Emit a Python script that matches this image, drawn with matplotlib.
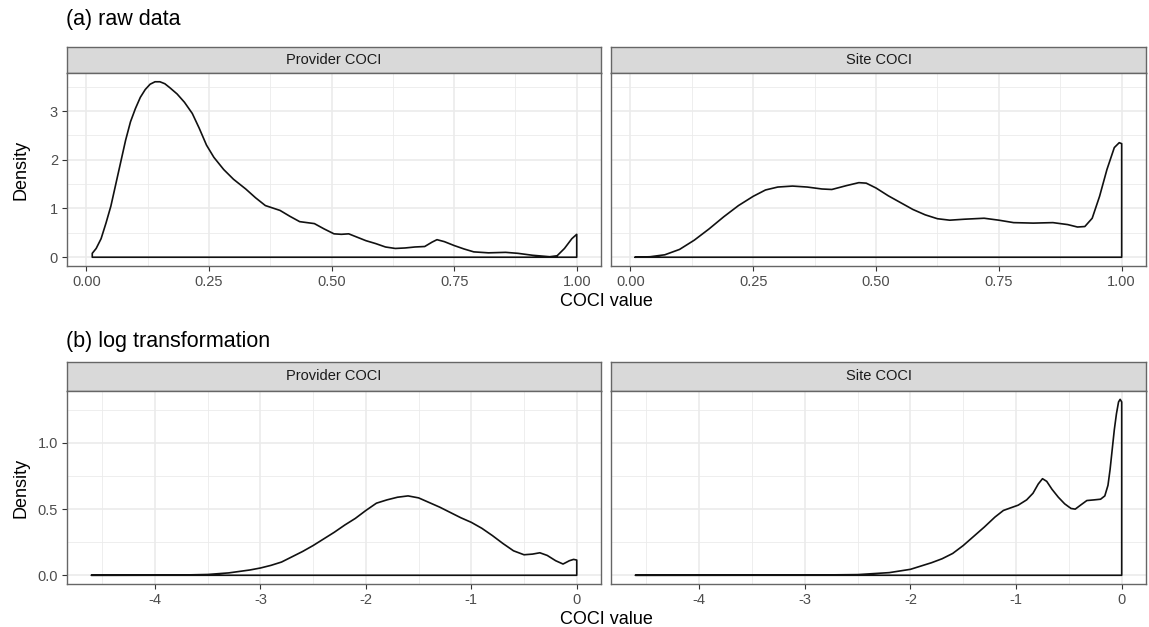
import numpy as np
import matplotlib
matplotlib.use("Agg")
import matplotlib.pyplot as plt

plt.rcParams['font.family'] = ['Liberation Sans', 'DejaVu Sans']

# (a) raw data: density curves
prov_raw_x = [0.012, 0.020, 0.030, 0.040, 0.050, 0.060, 0.070, 0.080, 0.090, 0.100, 0.110, 0.120,
              0.130, 0.140, 0.150, 0.160, 0.170, 0.185, 0.200, 0.216, 0.230, 0.245, 0.260, 0.280,
              0.300, 0.325, 0.345, 0.365, 0.380, 0.395, 0.415, 0.435, 0.450, 0.465, 0.485, 0.505,
              0.520, 0.535, 0.550, 0.570, 0.590, 0.610, 0.630, 0.650, 0.670, 0.690, 0.705, 0.715,
              0.730, 0.750, 0.770, 0.790, 0.820, 0.855, 0.880, 0.910, 0.945, 0.960, 0.975, 0.990,
              1.000]
prov_raw_y = [0.08, 0.18, 0.38, 0.70, 1.05, 1.50, 1.95, 2.40, 2.78, 3.05, 3.28, 3.44,
              3.55, 3.60, 3.60, 3.56, 3.48, 3.35, 3.18, 2.95, 2.65, 2.30, 2.05, 1.80,
              1.60, 1.40, 1.22, 1.06, 1.01, 0.96, 0.84, 0.73, 0.71, 0.69, 0.58, 0.48,
              0.47, 0.48, 0.42, 0.34, 0.28, 0.21, 0.18, 0.19, 0.21, 0.22, 0.31, 0.36,
              0.32, 0.24, 0.17, 0.11, 0.09, 0.10, 0.08, 0.04, 0.01, 0.03, 0.18, 0.38,
              0.47]
site_raw_x = [0.009, 0.040, 0.070, 0.100, 0.130, 0.160, 0.190, 0.220, 0.250, 0.275, 0.300, 0.330,
              0.360, 0.390, 0.410, 0.440, 0.465, 0.480, 0.500, 0.525, 0.550, 0.575, 0.600, 0.625,
              0.650, 0.680, 0.720, 0.750, 0.780, 0.820, 0.860, 0.890, 0.910, 0.925, 0.940, 0.955,
              0.970, 0.985, 0.995, 1.000]
site_raw_y = [0.00, 0.01, 0.05, 0.16, 0.35, 0.58, 0.83, 1.06, 1.25, 1.38, 1.44, 1.46,
              1.44, 1.40, 1.39, 1.47, 1.53, 1.52, 1.42, 1.26, 1.12, 0.98, 0.87, 0.79,
              0.76, 0.78, 0.80, 0.76, 0.71, 0.70, 0.71, 0.67, 0.62, 0.63, 0.80, 1.25,
              1.80, 2.25, 2.35, 2.33]

# (b) log transformation
prov_log_x = [-4.605, -3.8, -3.5, -3.3, -3.1, -3.0, -2.9, -2.8, -2.7, -2.6, -2.5, -2.4,
              -2.3, -2.2, -2.1, -2.0, -1.9, -1.8, -1.7, -1.6, -1.5, -1.4, -1.3, -1.2,
              -1.1, -1.0, -0.9, -0.8, -0.7, -0.6, -0.5, -0.42, -0.35, -0.28, -0.2, -0.13,
              -0.07, -0.03, 0.0]
prov_log_y = [0.0, 0.001, 0.006, 0.018, 0.04, 0.055, 0.075, 0.10, 0.14, 0.18, 0.225, 0.275,
              0.325, 0.38, 0.43, 0.49, 0.545, 0.57, 0.59, 0.60, 0.585, 0.55, 0.515, 0.475,
              0.435, 0.40, 0.355, 0.30, 0.24, 0.185, 0.155, 0.16, 0.17, 0.15, 0.11, 0.085,
              0.11, 0.12, 0.115]
site_log_x = [-4.605, -3.0, -2.5, -2.2, -2.0, -1.9, -1.8, -1.7, -1.6, -1.5, -1.4, -1.3,
              -1.2, -1.12, -1.05, -0.98, -0.9, -0.84, -0.79, -0.75, -0.71, -0.66, -0.6, -0.54,
              -0.48, -0.44, -0.39, -0.33, -0.26, -0.2, -0.16, -0.13, -0.11, -0.09, -0.07, -0.05,
              -0.03, -0.015, 0.0]
site_log_y = [0.0, 0.001, 0.005, 0.02, 0.045, 0.07, 0.095, 0.125, 0.165, 0.225, 0.295, 0.365,
              0.44, 0.49, 0.51, 0.53, 0.57, 0.62, 0.69, 0.73, 0.71, 0.65, 0.59, 0.54,
              0.505, 0.50, 0.53, 0.565, 0.57, 0.575, 0.60, 0.68, 0.80, 0.95, 1.10, 1.22,
              1.31, 1.33, 1.31]

facets = ['Provider COCI', 'Site COCI']
row_titles = ['(a) raw data', '(b) log transformation']

W, H = 1149, 627
grey20 = '#333333'
grid_col = '#ebebeb'


def box(x0, y0, x1, y1):
    # pixel box (top-left origin) -> figure fraction
    return [x0 / W, 1 - y1 / H, (x1 - x0) / W, (y1 - y0) / H]


def density_panel(ax, x, y, xlim, ylim, xmajor, xminor, ymajor, yminor, xfmt, yfmt, show_y):
    ax.set_xlim(xlim)
    ax.set_ylim(ylim)
    for v in xminor:
        ax.axvline(v, color=grid_col, lw=0.6, zorder=0)
    for v in yminor:
        ax.axhline(v, color=grid_col, lw=0.6, zorder=0)
    for v in xmajor:
        ax.axvline(v, color=grid_col, lw=1.2, zorder=0)
    for v in ymajor:
        ax.axhline(v, color=grid_col, lw=1.2, zorder=0)
    px = np.concatenate([x, [x[-1], x[0]]])
    py = np.concatenate([y, [0, 0]])
    ax.fill(px, py, facecolor='none', edgecolor='#111111', lw=1.2, closed=True,
            joinstyle='round', zorder=3)
    ax.set_xticks(xmajor)
    ax.set_xticklabels([xfmt.format(v) for v in xmajor])
    ax.set_yticks(ymajor)
    ax.set_yticklabels([yfmt.format(v) for v in ymajor] if show_y else [])
    ax.tick_params(length=3.5, width=0.8, color=grey20, labelcolor='#4d4d4d', labelsize=10.5, pad=3)
    if not show_y:
        ax.tick_params(axis='y', length=0)
    for s in ax.spines.values():
        s.set_color('#666666')
        s.set_linewidth(1.0)


def strip(box_px, label):
    sax = fig.add_axes(box(*box_px))
    sax.set_facecolor('#d9d9d9')
    sax.set_xticks([])
    sax.set_yticks([])
    for s in sax.spines.values():
        s.set_color('#666666')
        s.set_linewidth(1.0)
    sax.text(0.5, 0.5, label, ha='center', va='center', fontsize=10.5, color='#1a1a1a',
             transform=sax.transAxes)


fig = plt.figure(figsize=(W / 100, H / 100), dpi=100)

cols = [(67, 601), (611, 1146)]
rows = [
    dict(strip=(47, 73), panel=(73, 266), title_y=20,
         data=[(prov_raw_x, prov_raw_y), (site_raw_x, site_raw_y)],
         xlim=(-0.0395, 1.0495), ylim=(-0.18, 3.78),
         xmajor=[0, 0.25, 0.5, 0.75, 1.0], xminor=[0.125, 0.375, 0.625, 0.875],
         ymajor=[0, 1, 2, 3], yminor=[0.5, 1.5, 2.5, 3.5], xfmt='{:.2f}', yfmt='{:g}'),
    dict(strip=(362, 391), panel=(391, 584), title_y=342,
         data=[(prov_log_x, prov_log_y), (site_log_x, site_log_y)],
         xlim=(-4.835, 0.23), ylim=(-0.066, 1.393),
         xmajor=[-4, -3, -2, -1, 0], xminor=[-4.5, -3.5, -2.5, -1.5, -0.5],
         ymajor=[0, 0.5, 1.0], yminor=[0.25, 0.75, 1.25], xfmt='{:g}', yfmt='{:.1f}'),
]

for r, row in enumerate(rows):
    for c, (x0, x1) in enumerate(cols):
        strip((x0, row['strip'][0], x1, row['strip'][1]), facets[c])
        ax = fig.add_axes(box(x0, row['panel'][0], x1, row['panel'][1]))
        x, y = row['data'][c]
        density_panel(ax, np.array(x), np.array(y), row['xlim'], row['ylim'], row['xmajor'],
                      row['xminor'], row['ymajor'], row['yminor'], row['xfmt'], row['yfmt'], c == 0)
    mid_y = (row['panel'][0] + row['panel'][1]) / 2
    fig.text(21 / W, 1 - mid_y / H, 'Density', fontsize=13, rotation=90, ha='center', va='center')
    fig.text(66 / W, 1 - row['title_y'] / H, row_titles[r], fontsize=15.5, ha='left', va='center')
    fig.text(606 / W, 1 - (row['panel'][1] + 36) / H, 'COCI value', fontsize=13, ha='center', va='center')

fig.savefig('out.png', dpi=100)
